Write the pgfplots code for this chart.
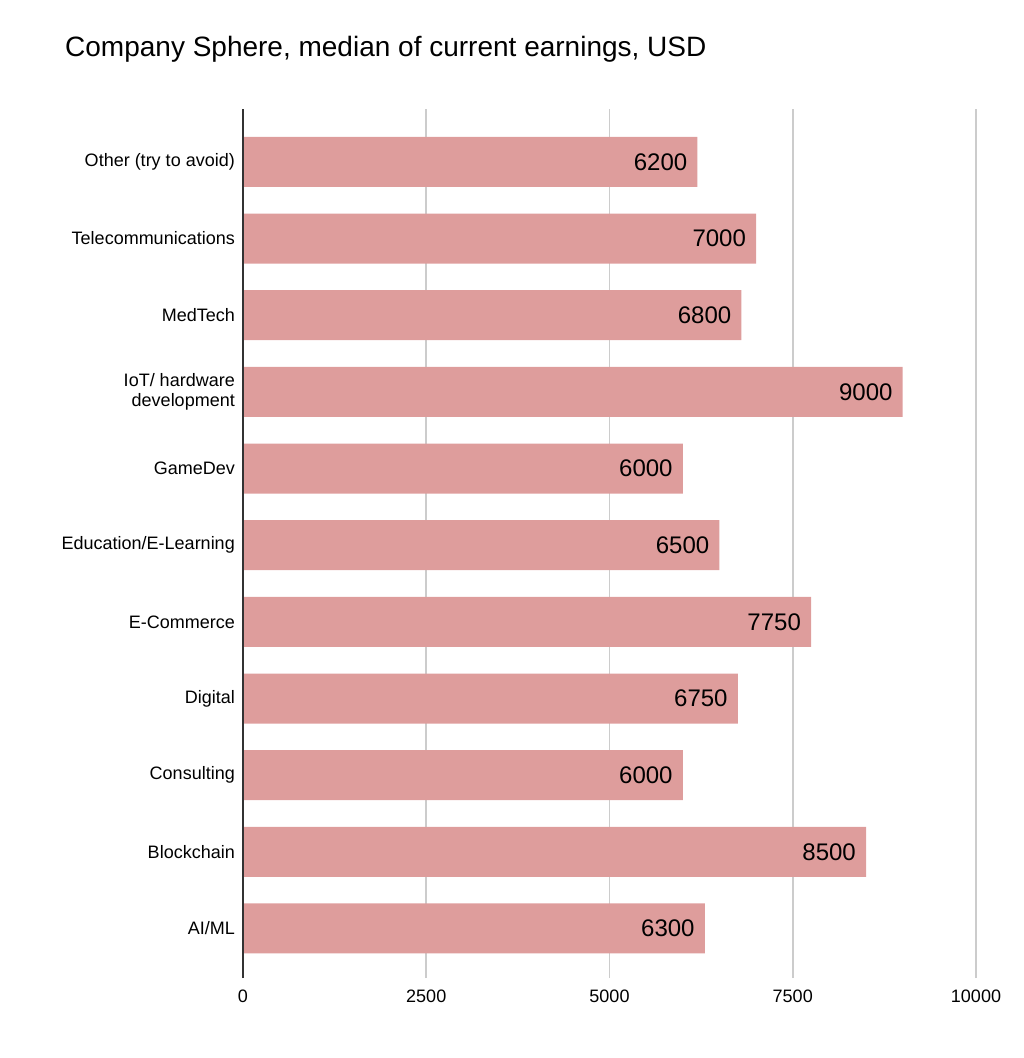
\documentclass[border=0pt]{standalone}
\usepackage{fontspec}
\setmainfont{Liberation Sans}
\usepackage{pgfplots}
\pgfplotsset{compat=1.18}
\definecolor{barc}{HTML}{DE9D9C}
\definecolor{gridc}{HTML}{CCCCCC}
\definecolor{axc}{HTML}{333333}
\begin{document}
\begin{tikzpicture}[x=1pt,y=1pt]
\useasboundingbox (-243,-80) rectangle (781,978);
\begin{axis}[
  at={(0pt,0pt)}, anchor=south west,
  scale only axis, width=733pt, height=869pt,
  xmin=0, xmax=10000, ymin=-0.646, ymax=10.69,
  xbar, bar width=50pt, bar shift=0pt,
  axis line style={draw=none},
  major tick length=0pt,
  xtick={0,2500,5000,7500,10000},
  xticklabels={0,2500,5000,7500,10000},
  scaled x ticks=false,
  ytick={0,1,2,3,4,5,6,7,8,9,10},
  yticklabels={AI/ML,Blockchain,Consulting,Digital,E-Commerce,Education/E-Learning,GameDev,{IoT/ hardware\\development},MedTech,Telecommunications,Other (try to avoid)},
  tick label style={inner sep=0pt, font=\fontsize{18}{19.5}\selectfont, text=black},
  yticklabel style={align=right, anchor=east, xshift=-8pt},
  xticklabel style={anchor=north, yshift=-12pt},
  xmajorgrids, grid style={draw=gridc, line width=1.5pt},
  clip=false,
  point meta=x,
  nodes near coords={\pgfmathprintnumber[fixed,precision=0,1000 sep={},assume math mode=true]{\pgfplotspointmeta}},
  nodes near coords align={anchor=east},
  every node near coord/.append style={xshift=-10pt, inner sep=0pt, text=black, font=\fontsize{24}{27}\selectfont},
]
\addplot[fill=barc, draw=none] coordinates {
 (6300,0) (8500,1) (6000,2) (6750,3) (7750,4) (6500,5) (6000,6) (9000,7) (6800,8) (7000,9) (6200,10)
};
\draw[axc, line width=2pt] (rel axis cs:0,0) -- (rel axis cs:0,1);
\end{axis}
\node[anchor=base west, inner sep=0pt, font=\fontsize{28}{33}\selectfont] at (-178,921) {Company Sphere, median of current earnings, USD};
\end{tikzpicture}
\end{document}
